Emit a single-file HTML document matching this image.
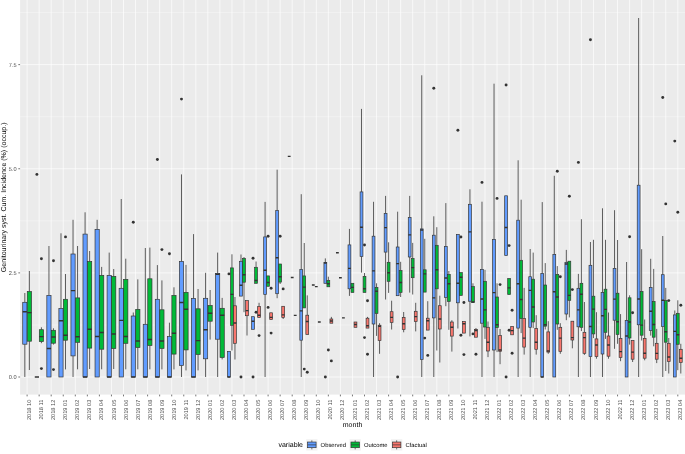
<!DOCTYPE html>
<html><head><meta charset="utf-8"><title>plot</title>
<style>html,body{margin:0;padding:0;background:#fff}svg{display:block}</style>
</head><body>
<svg width="685" height="454" viewBox="0 0 685 454" text-rendering="geometricPrecision">
<defs><filter id="sf" x="-5%" y="-5%" width="110%" height="110%"><feGaussianBlur stdDeviation="0.32"/></filter></defs>
<rect width="685" height="454" fill="#fff"/>
<rect x="20.1" y="0" width="664.9" height="394.6" fill="#EBEBEB"/>
<path d="M20.1 324.94H685M20.1 220.81H685M20.1 116.69H685M20.1 12.56H685" stroke="#fff" stroke-width="0.34" fill="none"/>
<path d="M20.1 377H685M20.1 272.88H685M20.1 168.75H685M20.1 64.62H685M27.1 0V394.6M39.15 0V394.6M51.2 0V394.6M63.25 0V394.6M75.3 0V394.6M87.35 0V394.6M99.4 0V394.6M111.45 0V394.6M123.5 0V394.6M135.55 0V394.6M147.6 0V394.6M159.65 0V394.6M171.7 0V394.6M183.75 0V394.6M195.8 0V394.6M207.85 0V394.6M219.9 0V394.6M231.95 0V394.6M244 0V394.6M256.05 0V394.6M268.1 0V394.6M280.15 0V394.6M292.2 0V394.6M304.25 0V394.6M316.3 0V394.6M328.35 0V394.6M340.4 0V394.6M352.45 0V394.6M364.5 0V394.6M376.55 0V394.6M388.6 0V394.6M400.65 0V394.6M412.7 0V394.6M424.75 0V394.6M436.8 0V394.6M448.85 0V394.6M460.9 0V394.6M472.95 0V394.6M485 0V394.6M497.05 0V394.6M509.1 0V394.6M521.15 0V394.6M533.2 0V394.6M545.25 0V394.6M557.3 0V394.6M569.35 0V394.6M581.4 0V394.6M593.45 0V394.6M605.5 0V394.6M617.55 0V394.6M629.6 0V394.6M641.65 0V394.6M653.7 0V394.6M665.75 0V394.6M677.8 0V394.6" stroke="#fff" stroke-width="0.68" fill="none"/>
<g fill="#333333"><circle cx="36.89" cy="174.4" r="1.45"/><circle cx="41.41" cy="258.7" r="1.45"/><circle cx="41.41" cy="368.6" r="1.45"/><circle cx="53.46" cy="260.7" r="1.45"/><circle cx="53.46" cy="369.6" r="1.45"/><circle cx="65.51" cy="236.9" r="1.45"/><circle cx="133.29" cy="222.2" r="1.45"/><circle cx="157.39" cy="159.5" r="1.45"/><circle cx="161.91" cy="249.6" r="1.45"/><circle cx="169.44" cy="253.8" r="1.45"/><circle cx="181.49" cy="99.1" r="1.45"/><circle cx="228.94" cy="273.9" r="1.45"/><circle cx="240.99" cy="377" r="1.45"/><circle cx="253.04" cy="258.2" r="1.45"/><circle cx="253.04" cy="377" r="1.45"/><circle cx="256.05" cy="312.3" r="1.45"/><circle cx="259.06" cy="335.6" r="1.45"/><circle cx="268.1" cy="236.3" r="1.45"/><circle cx="268.1" cy="307.4" r="1.45"/><circle cx="271.11" cy="288.3" r="1.45"/><circle cx="271.11" cy="333.1" r="1.45"/><circle cx="280.15" cy="236.3" r="1.45"/><circle cx="283.16" cy="288.9" r="1.45"/><circle cx="304.25" cy="369.1" r="1.45"/><circle cx="307.26" cy="372.3" r="1.45"/><circle cx="325.34" cy="377" r="1.45"/><circle cx="328.35" cy="350" r="1.45"/><circle cx="331.36" cy="360.9" r="1.45"/><circle cx="364.5" cy="245" r="1.45"/><circle cx="364.5" cy="337.6" r="1.45"/><circle cx="367.51" cy="300.7" r="1.45"/><circle cx="367.51" cy="354.3" r="1.45"/><circle cx="397.64" cy="377" r="1.45"/><circle cx="424.75" cy="338.1" r="1.45"/><circle cx="427.76" cy="355.4" r="1.45"/><circle cx="433.79" cy="88.3" r="1.45"/><circle cx="457.89" cy="130.2" r="1.45"/><circle cx="460.9" cy="237" r="1.45"/><circle cx="460.9" cy="335.2" r="1.45"/><circle cx="463.91" cy="302.5" r="1.45"/><circle cx="463.91" cy="354.6" r="1.45"/><circle cx="472.95" cy="333.9" r="1.45"/><circle cx="475.96" cy="354.3" r="1.45"/><circle cx="481.99" cy="182.4" r="1.45"/><circle cx="497.05" cy="198.4" r="1.45"/><circle cx="500.06" cy="284.6" r="1.45"/><circle cx="506.09" cy="85" r="1.45"/><circle cx="506.09" cy="377" r="1.45"/><circle cx="509.1" cy="245.6" r="1.45"/><circle cx="509.1" cy="330.3" r="1.45"/><circle cx="512.11" cy="310.3" r="1.45"/><circle cx="512.11" cy="353.3" r="1.45"/><circle cx="557.3" cy="171.3" r="1.45"/><circle cx="560.31" cy="276.7" r="1.45"/><circle cx="569.35" cy="196.2" r="1.45"/><circle cx="572.36" cy="289.6" r="1.45"/><circle cx="578.39" cy="162.4" r="1.45"/><circle cx="590.44" cy="39.8" r="1.45"/><circle cx="629.6" cy="236.8" r="1.45"/><circle cx="632.61" cy="312.7" r="1.45"/><circle cx="662.74" cy="97.5" r="1.45"/><circle cx="665.75" cy="203.9" r="1.45"/><circle cx="668.76" cy="300.6" r="1.45"/><circle cx="674.79" cy="141.1" r="1.45"/><circle cx="677.8" cy="212.2" r="1.45"/><circle cx="680.81" cy="305.2" r="1.45"/></g>
<path d="M24.84 293V302.3M24.84 344.2V377M29.36 271V291.6M29.36 341.2V370M41.41 327.3V329.7M41.41 341.6V343.2M48.94 246V295.4M53.46 328.3V330.3M53.46 343.2V344.6M60.99 233.3V308.5M65.51 274V299.3M65.51 340.2V369.4M73.04 219.8V254M73.04 355.9V377M77.56 246V297.9M77.56 342.3V369.3M85.09 212.3V234.1M89.61 251V261.5M89.61 348.1V369M97.14 219.8V229.4M101.66 266.9V275.4M101.66 349.2V369.3M109.19 252.6V275.4M113.71 269V276.4M113.71 348.5V369M121.24 199V288.3M125.76 258.7V279.4M125.76 343.3V369.3M133.29 312.5V316M137.81 279.4V309.4M137.81 347.5V369.3M145.34 248V324.3M149.86 247.6V278.8M149.86 345.5V369.3M157.39 265.1V299.3M161.91 280.4V309.8M161.91 348.4V369.4M169.44 322.7V336.6M173.96 287.3V295.4M173.96 354.1V369.4M181.49 174.4V261.5M181.49 365.4V377M186.01 264.9V292.4M186.01 349.9V370.4M193.54 234.1V298.5M198.06 289V308.8M198.06 354.5V370.4M205.59 272.8V298.3M205.59 358.8V377M210.11 290V305.5M210.11 321.2V339.6M217.64 252.6V273.4M217.64 339.2V377M222.16 297.9V308.3M222.16 357.5V359.4M231.95 254.3V267.9M231.95 325.3V350.5M234.96 297V305.8M234.96 343.3V359.5M240.99 254.5V261.3M244 257V258.5M244 282.2V312.2M247.01 315.7V335.5M256.05 261.5V267.3M259.06 302.8V306.4M265.09 201.9V236.9M265.09 294.5V377M277.14 169.7V210.5M277.14 293.7V298.2M280.15 282.1V284M283.16 317.4V319M301.24 194.2V269.4M301.24 340.2V377M304.25 243V275.9M307.26 295.4V315.2M325.34 258.4V262.4M328.35 276.7V280.5M331.36 316.9V319M349.44 228.9V244.9M349.44 288.8V295.9M361.49 108.9V191.9M361.49 256.5V272.6M364.5 273V276.4M367.51 316.9V318.2M373.54 201.8V236.2M373.54 324V377M376.55 283.3V287.4M376.55 313.4V335.9M379.56 323.2V325.2M379.56 340.5V353.8M385.59 195.9V213.4M385.59 252.1V299.5M388.6 242.3V262.3M388.6 281.3V292.9M391.61 300.7V311.7M391.61 322.4V329.5M397.64 211.7V247M400.65 261.8V270.6M400.65 292.4V297M403.66 312V317.4M403.66 329.5V332.3M409.69 195.9V217.4M409.69 257V292.6M412.7 242.9V258.5M412.7 277.7V294.5M415.71 302.8V311.3M415.71 321.5V331.4M421.74 75.3V228.9M421.74 359.5V377M424.75 238.8V269.8M427.76 301.2V318.2M433.79 216.3V235.2M433.79 317.9V377M436.8 227.2V245.3M436.8 288.8V350.5M439.81 295.7V305.7M439.81 329V362.5M445.84 203.1V246.4M445.84 297.4V306.2M448.85 271V274.4M448.85 301.5V329.8M451.86 320.2V322M451.86 336.1V351.6M457.89 302.8V328.5M469.94 189.3V204.3M469.94 301.2V336.4M472.95 283.3V286.6M475.96 328V329.5M481.99 201.7V269.4M481.99 323.2V377M485 269.8V281.3M485 327V338.9M488.01 321.5V327.3M488.01 351V357.1M494.04 83.7V239.4M494.04 350V377M497.05 283.3V297M497.05 327.6V352.1M500.06 329V335.6M500.06 351.3V364.2M518.14 160.3V220.2M518.14 328.1V377M521.15 199.7V260.3M521.15 318.6V333.1M524.16 287.9V318.6M524.16 347.1V354.6M530.19 249V276.7M530.19 327.3V377M533.2 252.6V279.2M533.2 322V328.1M536.21 315.2V328.6M536.21 349.3V354.6M542.24 202.1V273.4M545.25 263.1V285M545.25 326.2V329.5M548.26 321.2V331.9M548.26 352.1V353.8M554.29 175.8V254.4M557.3 266.1V274.4M557.3 324V329.8M560.31 323.2V327.3M560.31 351.3V353.8M566.34 249.9V262.6M566.34 314V320.2M569.35 300.3V317.4M572.36 340V348.3M578.39 273.9V288.3M578.39 326.8V377M581.4 219.2V283.3M581.4 327.3V331.1M584.41 302V332.3M584.41 353.3V354.9M590.44 242V265.3M590.44 356.6V377M593.45 239.8V296.2M593.45 333.9V338.1M596.46 312.2V338.9M596.46 356.6V358.7M602.49 208.3V292.5M602.49 354V377M605.5 239.8V289.2M605.5 332.3V338.9M608.51 312.5V336M608.51 356.2V358.7M614.54 210.2V268.4M614.54 320.2V348.8M617.55 240V293.2M617.55 334.4V343.8M620.56 314.1V338.4M620.56 357.4V361.2M626.59 262V320.4M629.6 295.3V297.8M629.6 338V344.6M632.61 359.2V362M638.64 18V185.2M638.64 324.8V377M641.65 249.2V291.5M641.65 335.2V340.5M644.66 319.5V338.4M644.66 358.2V360.3M650.69 258.8V287.4M650.69 330.6V335.6M653.7 268.9V301.4M653.7 337.2V346.3M656.71 328.9V343.3M656.71 359.2V363.1M662.74 236V274.7M662.74 326.5V377M665.75 287.9V300.6M665.75 342.2V371M668.76 338V343.3M668.76 361.5V373.5M674.79 310.5V314.9M677.8 300.3V313.3M677.8 344.3V370.2M680.81 343.8V349.3M680.81 362.5V373.5" stroke="#333333" stroke-width="0.78" fill="none"/>
<g stroke="#333333" stroke-width="0.68" stroke-linejoin="miter"><rect x="22.73" y="302.3" width="4.22" height="41.9" fill="#619CFF"/><rect x="27.25" y="291.6" width="4.22" height="49.6" fill="#00BA38"/><rect x="39.3" y="329.7" width="4.22" height="11.9" fill="#00BA38"/><rect x="46.83" y="295.4" width="4.22" height="81.6" fill="#619CFF"/><rect x="51.35" y="330.3" width="4.22" height="12.9" fill="#00BA38"/><rect x="58.88" y="308.5" width="4.22" height="68.5" fill="#619CFF"/><rect x="63.4" y="299.3" width="4.22" height="40.9" fill="#00BA38"/><rect x="70.93" y="254" width="4.22" height="101.9" fill="#619CFF"/><rect x="75.45" y="297.9" width="4.22" height="44.4" fill="#00BA38"/><rect x="82.98" y="234.1" width="4.22" height="142.9" fill="#619CFF"/><rect x="87.5" y="261.5" width="4.22" height="86.6" fill="#00BA38"/><rect x="95.03" y="229.4" width="4.22" height="147.6" fill="#619CFF"/><rect x="99.55" y="275.4" width="4.22" height="73.8" fill="#00BA38"/><rect x="107.08" y="275.4" width="4.22" height="101.6" fill="#619CFF"/><rect x="111.6" y="276.4" width="4.22" height="72.1" fill="#00BA38"/><rect x="119.13" y="288.3" width="4.22" height="88.7" fill="#619CFF"/><rect x="123.65" y="279.4" width="4.22" height="63.9" fill="#00BA38"/><rect x="131.18" y="316" width="4.22" height="61" fill="#619CFF"/><rect x="135.7" y="309.4" width="4.22" height="38.1" fill="#00BA38"/><rect x="143.23" y="324.3" width="4.22" height="52.7" fill="#619CFF"/><rect x="147.75" y="278.8" width="4.22" height="66.7" fill="#00BA38"/><rect x="155.28" y="299.3" width="4.22" height="77.7" fill="#619CFF"/><rect x="159.8" y="309.8" width="4.22" height="38.6" fill="#00BA38"/><rect x="167.33" y="336.6" width="4.22" height="40.4" fill="#619CFF"/><rect x="171.85" y="295.4" width="4.22" height="58.7" fill="#00BA38"/><rect x="179.38" y="261.5" width="4.22" height="103.9" fill="#619CFF"/><rect x="183.9" y="292.4" width="4.22" height="57.5" fill="#00BA38"/><rect x="191.43" y="298.5" width="4.22" height="78.5" fill="#619CFF"/><rect x="195.95" y="308.8" width="4.22" height="45.7" fill="#00BA38"/><rect x="203.48" y="298.3" width="4.22" height="60.5" fill="#619CFF"/><rect x="208" y="305.5" width="4.22" height="15.7" fill="#00BA38"/><rect x="215.53" y="273.4" width="4.22" height="65.8" fill="#619CFF"/><rect x="220.05" y="308.3" width="4.22" height="49.2" fill="#00BA38"/><rect x="227.53" y="351.4" width="2.81" height="25.6" fill="#619CFF"/><rect x="230.54" y="267.9" width="2.81" height="57.4" fill="#00BA38"/><rect x="233.56" y="305.8" width="2.81" height="37.5" fill="#F8766D"/><rect x="239.58" y="261.3" width="2.81" height="34.8" fill="#619CFF"/><rect x="242.59" y="258.5" width="2.81" height="23.7" fill="#00BA38"/><rect x="245.61" y="300.6" width="2.81" height="15.1" fill="#F8766D"/><rect x="251.63" y="316.7" width="2.81" height="12.6" fill="#619CFF"/><rect x="254.64" y="267.3" width="2.81" height="16" fill="#00BA38"/><rect x="257.66" y="306.4" width="2.81" height="11" fill="#F8766D"/><rect x="263.68" y="236.9" width="2.81" height="57.6" fill="#619CFF"/><rect x="266.69" y="275.9" width="2.81" height="10.4" fill="#00BA38"/><rect x="269.71" y="312.8" width="2.81" height="6.7" fill="#F8766D"/><rect x="275.73" y="210.5" width="2.81" height="83.2" fill="#619CFF"/><rect x="278.74" y="264" width="2.81" height="18.1" fill="#00BA38"/><rect x="281.76" y="306.3" width="2.81" height="11.1" fill="#F8766D"/><rect x="299.83" y="269.4" width="2.81" height="70.8" fill="#619CFF"/><rect x="302.84" y="275.9" width="2.81" height="32" fill="#00BA38"/><rect x="305.86" y="315.2" width="2.81" height="19.2" fill="#F8766D"/><rect x="323.93" y="262.4" width="2.81" height="20.9" fill="#619CFF"/><rect x="326.94" y="280.5" width="2.81" height="6.3" fill="#00BA38"/><rect x="329.96" y="319" width="2.81" height="4.2" fill="#F8766D"/><rect x="348.03" y="244.9" width="2.81" height="43.9" fill="#619CFF"/><rect x="351.04" y="283.3" width="2.81" height="9.1" fill="#00BA38"/><rect x="354.06" y="322" width="2.81" height="5.3" fill="#F8766D"/><rect x="360.08" y="191.9" width="2.81" height="64.6" fill="#619CFF"/><rect x="363.09" y="276.4" width="2.81" height="16" fill="#00BA38"/><rect x="366.11" y="318.2" width="2.81" height="9.9" fill="#F8766D"/><rect x="372.13" y="236.2" width="2.81" height="87.8" fill="#619CFF"/><rect x="375.14" y="287.4" width="2.81" height="26" fill="#00BA38"/><rect x="378.16" y="325.2" width="2.81" height="15.3" fill="#F8766D"/><rect x="384.18" y="213.4" width="2.81" height="38.7" fill="#619CFF"/><rect x="387.19" y="262.3" width="2.81" height="19" fill="#00BA38"/><rect x="390.21" y="311.7" width="2.81" height="10.7" fill="#F8766D"/><rect x="396.23" y="247" width="2.81" height="48.7" fill="#619CFF"/><rect x="399.24" y="270.6" width="2.81" height="21.8" fill="#00BA38"/><rect x="402.26" y="317.4" width="2.81" height="12.1" fill="#F8766D"/><rect x="408.28" y="217.4" width="2.81" height="39.6" fill="#619CFF"/><rect x="411.29" y="258.5" width="2.81" height="19.2" fill="#00BA38"/><rect x="414.31" y="311.3" width="2.81" height="10.2" fill="#F8766D"/><rect x="420.33" y="228.9" width="2.81" height="130.6" fill="#619CFF"/><rect x="423.34" y="269.8" width="2.81" height="22.3" fill="#00BA38"/><rect x="426.36" y="318.2" width="2.81" height="11.9" fill="#F8766D"/><rect x="432.38" y="235.2" width="2.81" height="82.7" fill="#619CFF"/><rect x="435.39" y="245.3" width="2.81" height="43.5" fill="#00BA38"/><rect x="438.41" y="305.7" width="2.81" height="23.3" fill="#F8766D"/><rect x="444.43" y="246.4" width="2.81" height="51" fill="#619CFF"/><rect x="447.44" y="274.4" width="2.81" height="27.1" fill="#00BA38"/><rect x="450.46" y="322" width="2.81" height="14.1" fill="#F8766D"/><rect x="456.48" y="234.4" width="2.81" height="68.4" fill="#619CFF"/><rect x="459.49" y="272.6" width="2.81" height="22.8" fill="#00BA38"/><rect x="462.51" y="321.5" width="2.81" height="11.6" fill="#F8766D"/><rect x="468.53" y="204.3" width="2.81" height="96.9" fill="#619CFF"/><rect x="471.54" y="286.6" width="2.81" height="15.9" fill="#00BA38"/><rect x="474.56" y="329.5" width="2.81" height="7.7" fill="#F8766D"/><rect x="480.58" y="269.4" width="2.81" height="53.8" fill="#619CFF"/><rect x="483.59" y="281.3" width="2.81" height="45.7" fill="#00BA38"/><rect x="486.61" y="327.3" width="2.81" height="23.7" fill="#F8766D"/><rect x="492.63" y="239.4" width="2.81" height="110.6" fill="#619CFF"/><rect x="495.64" y="297" width="2.81" height="30.6" fill="#00BA38"/><rect x="498.66" y="335.6" width="2.81" height="15.7" fill="#F8766D"/><rect x="504.68" y="195.8" width="2.81" height="59.7" fill="#619CFF"/><rect x="507.69" y="278.5" width="2.81" height="16" fill="#00BA38"/><rect x="510.71" y="326.5" width="2.81" height="8.3" fill="#F8766D"/><rect x="516.73" y="220.2" width="2.81" height="107.9" fill="#619CFF"/><rect x="519.74" y="260.3" width="2.81" height="58.3" fill="#00BA38"/><rect x="522.76" y="318.6" width="2.81" height="28.5" fill="#F8766D"/><rect x="528.78" y="276.7" width="2.81" height="50.6" fill="#619CFF"/><rect x="531.79" y="279.2" width="2.81" height="42.8" fill="#00BA38"/><rect x="534.81" y="328.6" width="2.81" height="20.7" fill="#F8766D"/><rect x="540.83" y="273.4" width="2.81" height="103.6" fill="#619CFF"/><rect x="543.84" y="285" width="2.81" height="41.2" fill="#00BA38"/><rect x="546.86" y="331.9" width="2.81" height="20.2" fill="#F8766D"/><rect x="552.88" y="254.4" width="2.81" height="122.6" fill="#619CFF"/><rect x="555.89" y="274.4" width="2.81" height="49.6" fill="#00BA38"/><rect x="558.91" y="327.3" width="2.81" height="24" fill="#F8766D"/><rect x="564.93" y="262.6" width="2.81" height="51.4" fill="#619CFF"/><rect x="567.94" y="261.2" width="2.81" height="39.1" fill="#00BA38"/><rect x="570.96" y="321.2" width="2.81" height="18.8" fill="#F8766D"/><rect x="576.98" y="288.3" width="2.81" height="38.5" fill="#619CFF"/><rect x="579.99" y="283.3" width="2.81" height="44" fill="#00BA38"/><rect x="583.01" y="332.3" width="2.81" height="21" fill="#F8766D"/><rect x="589.03" y="265.3" width="2.81" height="91.3" fill="#619CFF"/><rect x="592.04" y="296.2" width="2.81" height="37.7" fill="#00BA38"/><rect x="595.06" y="338.9" width="2.81" height="17.7" fill="#F8766D"/><rect x="601.08" y="292.5" width="2.81" height="61.5" fill="#619CFF"/><rect x="604.09" y="289.2" width="2.81" height="43.1" fill="#00BA38"/><rect x="607.11" y="336" width="2.81" height="20.2" fill="#F8766D"/><rect x="613.13" y="268.4" width="2.81" height="51.8" fill="#619CFF"/><rect x="616.14" y="293.2" width="2.81" height="41.2" fill="#00BA38"/><rect x="619.16" y="338.4" width="2.81" height="19" fill="#F8766D"/><rect x="625.18" y="320.4" width="2.81" height="56.6" fill="#619CFF"/><rect x="628.19" y="297.8" width="2.81" height="40.2" fill="#00BA38"/><rect x="631.21" y="340.5" width="2.81" height="18.7" fill="#F8766D"/><rect x="637.23" y="185.2" width="2.81" height="139.6" fill="#619CFF"/><rect x="640.24" y="291.5" width="2.81" height="43.7" fill="#00BA38"/><rect x="643.26" y="338.4" width="2.81" height="19.8" fill="#F8766D"/><rect x="649.28" y="287.4" width="2.81" height="43.2" fill="#619CFF"/><rect x="652.29" y="301.4" width="2.81" height="35.8" fill="#00BA38"/><rect x="655.31" y="343.3" width="2.81" height="15.9" fill="#F8766D"/><rect x="661.33" y="274.7" width="2.81" height="51.8" fill="#619CFF"/><rect x="664.34" y="300.6" width="2.81" height="41.6" fill="#00BA38"/><rect x="667.36" y="343.3" width="2.81" height="18.2" fill="#F8766D"/><rect x="673.38" y="314.9" width="2.81" height="62.1" fill="#619CFF"/><rect x="676.39" y="313.3" width="2.81" height="31" fill="#00BA38"/><rect x="679.41" y="349.3" width="2.81" height="13.2" fill="#F8766D"/></g>
<path d="M22.73 311.8H26.95M27.25 312.6H31.47M34.78 377H39M39.3 336.6H43.52M46.83 348.5H51.05M51.35 337H55.57M58.88 320.8H63.1M63.4 335.2H67.62M70.93 290.6H75.15M75.45 336.7H79.67M82.98 377H87.2M87.5 329.3H91.72M95.03 336.5H99.25M99.55 332.5H103.77M107.08 377H111.3M111.6 334H115.82M119.13 320.4H123.35M123.65 336.5H127.87M131.18 377H135.4M135.7 341H139.92M143.23 377H147.45M147.75 339.5H151.97M155.28 377H159.5M159.8 341H164.02M167.33 377H171.55M171.85 333.3H176.07M179.38 302.5H183.6M183.9 309.2H188.12M191.43 377H195.65M195.95 340.6H200.17M203.48 329.7H207.7M208 313.2H212.22M215.53 274.2H219.75M220.05 315.2H224.27M227.53 377H230.34M230.54 294.4H233.36M233.56 323H236.37M239.58 285.2H242.39M242.59 274.7H245.41M245.61 310.6H248.42M251.63 321.2H254.44M254.64 280.5H257.46M257.66 315.2H260.47M263.68 270.2H266.49M266.69 282.5H269.51M269.71 317.4H272.52M275.73 257.7H278.54M278.74 276.7H281.56M281.76 314.9H284.57M287.78 156.4H290.59M290.79 277.5H293.61M293.81 315.4H296.62M299.83 310.9H302.64M302.84 287.1H305.66M305.86 321.5H308.67M311.88 285H314.69M314.89 286.6H317.71M317.91 322H320.72M323.93 263H326.74M326.94 283.8H329.76M329.96 321H332.77M335.98 252.7H338.79M338.99 277.7H341.81M342.01 317.9H344.82M348.03 268.4H350.84M351.04 287.4H353.86M354.06 324.5H356.87M360.08 227.3H362.89M363.09 288.8H365.91M366.11 325.7H368.92M372.13 270.9H374.94M375.14 291.2H377.96M378.16 326.2H380.97M384.18 227.6H386.99M387.19 272.7H390.01M390.21 317.4H393.02M396.23 263.6H399.04M399.24 282.5H402.06M402.26 323.7H405.07M408.28 234.9H411.09M411.29 267.6H414.11M414.31 316.6H417.12M420.33 230H423.14M423.34 273.9H426.16M426.36 320.7H429.17M432.38 297.9H435.19M435.39 269.8H438.21M438.41 319H441.22M444.43 278H447.24M447.44 283.8H450.26M450.46 327.3H453.27M456.48 283.3H459.29M459.49 277.2H462.31M462.51 323.7H465.32M468.53 231.9H471.34M471.54 302H474.36M474.56 330.5H477.37M480.58 299H483.39M483.59 309.9H486.41M486.61 342.2H489.42M492.63 292.6H495.44M495.64 324.8H498.46M498.66 350H501.47M504.68 227.5H507.49M507.69 287.9H510.51M510.71 330.6H513.52M516.73 283.8H519.54M519.74 299.5H522.56M522.76 338.1H525.57M528.78 290.4H531.59M531.79 307H534.61M534.81 342.2H537.62M540.83 377H543.64M543.84 324.8H546.66M546.86 351H549.67M552.88 291.7H555.69M555.89 297H558.71M558.91 338.1H561.72M564.93 264H567.74M567.94 295.4H570.76M570.96 337.6H573.77M576.98 309.9H579.79M579.99 294.2H582.81M583.01 337.6H585.82M589.03 326.5H591.84M592.04 309.1H594.86M595.06 345H597.87M601.08 315.7H603.89M604.09 309.4H606.91M607.11 345H609.92M613.13 299.1H615.94M616.14 321.8H618.96M619.16 351.6H621.97M625.18 336H627.99M628.19 322H631.01M631.21 352.1H634.02M637.23 299H640.04M640.24 325.1H643.06M643.26 353.2H646.07M649.28 311.3H652.09M652.29 324.5H655.11M655.31 353.4H658.12M661.33 300.3H664.14M664.34 331.8H667.16M667.36 357H670.17M673.38 331.4H676.19M676.39 334.7H679.21M679.41 358.2H682.22" stroke="#333333" stroke-width="1.36" fill="none"/>
<path d="M18.34 377H20.1M18.34 272.88H20.1M18.34 168.75H20.1M18.34 64.62H20.1M27.1 394.6V396.36M39.15 394.6V396.36M51.2 394.6V396.36M63.25 394.6V396.36M75.3 394.6V396.36M87.35 394.6V396.36M99.4 394.6V396.36M111.45 394.6V396.36M123.5 394.6V396.36M135.55 394.6V396.36M147.6 394.6V396.36M159.65 394.6V396.36M171.7 394.6V396.36M183.75 394.6V396.36M195.8 394.6V396.36M207.85 394.6V396.36M219.9 394.6V396.36M231.95 394.6V396.36M244 394.6V396.36M256.05 394.6V396.36M268.1 394.6V396.36M280.15 394.6V396.36M292.2 394.6V396.36M304.25 394.6V396.36M316.3 394.6V396.36M328.35 394.6V396.36M340.4 394.6V396.36M352.45 394.6V396.36M364.5 394.6V396.36M376.55 394.6V396.36M388.6 394.6V396.36M400.65 394.6V396.36M412.7 394.6V396.36M424.75 394.6V396.36M436.8 394.6V396.36M448.85 394.6V396.36M460.9 394.6V396.36M472.95 394.6V396.36M485 394.6V396.36M497.05 394.6V396.36M509.1 394.6V396.36M521.15 394.6V396.36M533.2 394.6V396.36M545.25 394.6V396.36M557.3 394.6V396.36M569.35 394.6V396.36M581.4 394.6V396.36M593.45 394.6V396.36M605.5 394.6V396.36M617.55 394.6V396.36M629.6 394.6V396.36M641.65 394.6V396.36M653.7 394.6V396.36M665.75 394.6V396.36M677.8 394.6V396.36" stroke="#333333" stroke-width="0.68" fill="none"/>
<g font-family="Liberation Sans, sans-serif" font-size="5.63" fill="#4D4D4D" text-anchor="end">
<text x="16.54" y="379">0.0</text>
<text x="16.54" y="274.88">2.5</text>
<text x="16.54" y="170.75">5.0</text>
<text x="16.54" y="66.62">7.5</text>
</g>
<g font-family="Liberation Sans, sans-serif" font-size="5.63" fill="#4D4D4D" text-anchor="end" filter="url(#sf)">
<text transform="translate(31.15 399.7) rotate(-90)">2018 10</text>
<text transform="translate(43.2 399.7) rotate(-90)">2018 11</text>
<text transform="translate(55.25 399.7) rotate(-90)">2018 12</text>
<text transform="translate(67.3 399.7) rotate(-90)">2019 01</text>
<text transform="translate(79.35 399.7) rotate(-90)">2019 02</text>
<text transform="translate(91.4 399.7) rotate(-90)">2019 03</text>
<text transform="translate(103.45 399.7) rotate(-90)">2019 04</text>
<text transform="translate(115.5 399.7) rotate(-90)">2019 05</text>
<text transform="translate(127.55 399.7) rotate(-90)">2019 06</text>
<text transform="translate(139.6 399.7) rotate(-90)">2019 07</text>
<text transform="translate(151.65 399.7) rotate(-90)">2019 08</text>
<text transform="translate(163.7 399.7) rotate(-90)">2019 09</text>
<text transform="translate(175.75 399.7) rotate(-90)">2019 10</text>
<text transform="translate(187.8 399.7) rotate(-90)">2019 11</text>
<text transform="translate(199.85 399.7) rotate(-90)">2019 12</text>
<text transform="translate(211.9 399.7) rotate(-90)">2020 01</text>
<text transform="translate(223.95 399.7) rotate(-90)">2020 02</text>
<text transform="translate(236 399.7) rotate(-90)">2020 03</text>
<text transform="translate(248.05 399.7) rotate(-90)">2020 04</text>
<text transform="translate(260.1 399.7) rotate(-90)">2020 05</text>
<text transform="translate(272.15 399.7) rotate(-90)">2020 06</text>
<text transform="translate(284.2 399.7) rotate(-90)">2020 07</text>
<text transform="translate(296.25 399.7) rotate(-90)">2020 08</text>
<text transform="translate(308.3 399.7) rotate(-90)">2020 09</text>
<text transform="translate(320.35 399.7) rotate(-90)">2020 10</text>
<text transform="translate(332.4 399.7) rotate(-90)">2020 11</text>
<text transform="translate(344.45 399.7) rotate(-90)">2020 12</text>
<text transform="translate(356.5 399.7) rotate(-90)">2021 01</text>
<text transform="translate(368.55 399.7) rotate(-90)">2021 02</text>
<text transform="translate(380.6 399.7) rotate(-90)">2021 03</text>
<text transform="translate(392.65 399.7) rotate(-90)">2021 04</text>
<text transform="translate(404.7 399.7) rotate(-90)">2021 05</text>
<text transform="translate(416.75 399.7) rotate(-90)">2021 06</text>
<text transform="translate(428.8 399.7) rotate(-90)">2021 07</text>
<text transform="translate(440.85 399.7) rotate(-90)">2021 08</text>
<text transform="translate(452.9 399.7) rotate(-90)">2021 09</text>
<text transform="translate(464.95 399.7) rotate(-90)">2021 10</text>
<text transform="translate(477 399.7) rotate(-90)">2021 11</text>
<text transform="translate(489.05 399.7) rotate(-90)">2021 12</text>
<text transform="translate(501.1 399.7) rotate(-90)">2022 01</text>
<text transform="translate(513.15 399.7) rotate(-90)">2022 02</text>
<text transform="translate(525.2 399.7) rotate(-90)">2022 03</text>
<text transform="translate(537.25 399.7) rotate(-90)">2022 04</text>
<text transform="translate(549.3 399.7) rotate(-90)">2022 05</text>
<text transform="translate(561.35 399.7) rotate(-90)">2022 06</text>
<text transform="translate(573.4 399.7) rotate(-90)">2022 07</text>
<text transform="translate(585.45 399.7) rotate(-90)">2022 08</text>
<text transform="translate(597.5 399.7) rotate(-90)">2022 09</text>
<text transform="translate(609.55 399.7) rotate(-90)">2022 10</text>
<text transform="translate(621.6 399.7) rotate(-90)">2022 11</text>
<text transform="translate(633.65 399.7) rotate(-90)">2022 12</text>
<text transform="translate(645.7 399.7) rotate(-90)">2023 01</text>
<text transform="translate(657.75 399.7) rotate(-90)">2023 02</text>
<text transform="translate(669.8 399.7) rotate(-90)">2023 03</text>
<text transform="translate(681.85 399.7) rotate(-90)">2023 04</text>
</g>
<text font-family="Liberation Sans, sans-serif" font-size="7.04" fill="#000" text-anchor="middle" x="352.55" y="427.0">month</text>
<text font-family="Liberation Sans, sans-serif" font-size="7.04" fill="#000" text-anchor="middle" transform="translate(5.5 197.3) rotate(-90)">Genitourinary syst. Cum. Incidence (%) (occup.)</text>
<text font-family="Liberation Sans, sans-serif" font-size="7.04" fill="#000" x="278.4" y="447.25">variable</text>
<rect x="306.2" y="439.2" width="11.3" height="11.3" fill="#F2F2F2"/><path d="M311.85 440.3V442.03M311.85 447.68V449.4" stroke="#333333" stroke-width="0.68"/><rect x="307.61" y="442.03" width="8.48" height="5.65" fill="#619CFF" stroke="#333333" stroke-width="0.68"/><path d="M307.61 444.85H316.09" stroke="#333333" stroke-width="0.68"/><text font-family="Liberation Sans, sans-serif" font-size="5.85" fill="#000" x="320.6" y="446.85">Observed</text>
<rect x="349.55" y="439.2" width="11.3" height="11.3" fill="#F2F2F2"/><path d="M355.2 440.3V442.03M355.2 447.68V449.4" stroke="#333333" stroke-width="0.68"/><rect x="350.96" y="442.03" width="8.48" height="5.65" fill="#00BA38" stroke="#333333" stroke-width="0.68"/><path d="M350.96 444.85H359.44" stroke="#333333" stroke-width="0.68"/><text font-family="Liberation Sans, sans-serif" font-size="5.85" fill="#000" x="363.9" y="446.85">Outcome</text>
<rect x="391" y="439.2" width="11.3" height="11.3" fill="#F2F2F2"/><path d="M396.65 440.3V442.03M396.65 447.68V449.4" stroke="#333333" stroke-width="0.68"/><rect x="392.41" y="442.03" width="8.48" height="5.65" fill="#F8766D" stroke="#333333" stroke-width="0.68"/><path d="M392.41 444.85H400.89" stroke="#333333" stroke-width="0.68"/><text font-family="Liberation Sans, sans-serif" font-size="5.85" fill="#000" x="405.4" y="446.85">Cfactual</text>
</svg>
</body></html>
